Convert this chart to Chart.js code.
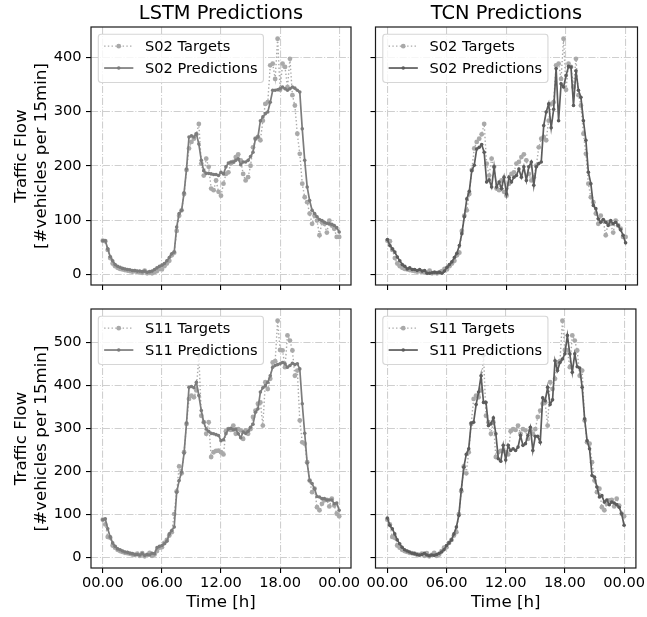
<!DOCTYPE html>
<html><head><meta charset="utf-8">
<script src="https://cdn.jsdelivr.net/npm/chart.js@4.4.1/dist/chart.umd.min.js"></script>
<style>
html,body{margin:0;padding:0;background:#fff;}
#wrap{position:relative;width:647px;height:617px;overflow:hidden;background:#fff;}
#wrap canvas{position:absolute;left:0;top:0;pointer-events:none;}
</style></head><body>
<div id="wrap">
<canvas id="tl" width="647" height="617"></canvas>
<canvas id="tr" width="647" height="617"></canvas>
<canvas id="bl" width="647" height="617"></canvas>
<canvas id="br" width="647" height="617"></canvas>
</div>
<script>
// ---- data (15-min steps over one day, 97 samples) ----
const timeTickPositions = [0, 24, 48, 72, 96];
const timeTickLabels = ['00.00', '06.00', '12.00', '18.00', '00.00'];
const flowTicksS02 = [0, 100, 200, 300, 400];
const flowTicksS11 = [0, 100, 200, 300, 400, 500];

const s02Targets = [62,61,45,30,20,15,12,10,9,8,7,6,5,6,4,4,3,7,2,3,2,4,6,10,9,15,20,25,35,40,
  80,108,118,148,192,232,244,250,258,277,204,182,213,198,158,155,173,152,145,167,
  185,188,204,207,216,221,210,185,173,179,200,234,250,253,247,283,314,317,385,388,
  360,434,340,388,382,345,397,330,311,259,222,167,142,133,112,93,108,99,72,96,
  93,77,99,90,84,69,69];
const s02LstmPred = [62,62,47,33,25,18,15,13,11,10,9,8.5,7,7,6,6,5,6,4,5,6,9,12,15,17,20,25,31,38,41,
  87,112,118,150,194,253,255,253,259,240,210,191,186,186,185,184,184,182,188,185,
  198,205,207,207,210,213,202,207,207,210,217,225,250,253,283,290,296,299,317,339,
  339,340,342,345,342,339,342,345,343,339,336,268,210,161,136,118,112,106,101,99,
  96,94,93,92,90,86,78];
const s02TcnPred = [64,53,47,41,32,25,18,15,10,12,9,9,7,9,6,7,2,2,3,4,3,4,2,6,13,18,23,31,39,53,
  75,106,139,153,191,201,231,234,239,225,170,174,161,198,161,170,158,179,148,179,
  170,179,182,194,179,198,173,198,207,164,198,204,207,274,299,314,270,304,379,283,
  351,345,366,383,382,311,375,339,326,283,247,188,167,127,121,102,96,101,96,90,
  99,93,96,90,82,72,58];

const s11Targets = [87,76,47,45,27,22,17,14,12,10,9,8,6,5,8,3,9,2,5,10,3,6,14,22,23,33,40,50,58,100,
  153,211,195,244,310,368,376,372,388,470,329,314,287,314,233,244,247,248,244,239,
  293,298,296,306,287,298,295,275,295,287,298,326,341,357,360,306,407,391,415,453,
  456,550,482,481,442,516,504,481,422,434,318,267,264,221,178,151,159,116,109,124,
  132,133,118,136,120,101,95];
const s11LstmPred = [87,89,66,47,33,25,19,17,14,12,11,9,8,6,6,5,8,4,6,5,9,8,22,25,27,31,37,54,62,70,
  151,178,198,242,312,395,397,394,407,376,341,314,298,293,288,287,285,283,271,273,
  287,298,300,296,298,287,278,291,288,293,302,309,337,345,384,394,399,407,422,442,
  446,448,450,453,450,442,446,451,448,450,438,357,288,219,178,171,159,141,140,136,
  136,133,133,133,124,126,109];
const s11TcnPred = [91,74,66,54,40,31,23,17,14,12,9,8,6,5,6,9,5,3,5,4,6,9,12,17,27,33,40,54,70,97,
  157,209,239,252,312,314,355,384,422,360,360,306,310,324,287,229,223,260,226,260,
  248,252,248,256,283,260,264,283,302,248,281,281,267,371,364,395,355,366,457,434,
  453,461,473,516,473,430,473,443,440,395,322,271,252,190,186,163,140,143,128,133,
  122,128,126,122,116,101,74];

// ---- styling ----
const FONT = 'DejaVu Sans';
const TICK_FS = 14.6, LABEL_FS = 16.67, TITLE_FS = 19.4, LEGEND_FS = 14.6;
const TARGET_COLOR = '#a9a9a9';
const LSTM_COLOR = '#7c7c7c';
const TCN_COLOR = '#5c5c5c';
const GRID_COLOR = '#cfcfcf';
const GRID_DASH = [7.1, 1.8, 1.1, 1.8];
const W = 647, H = 617;

function toPts(arr) { return arr.map((v, i) => ({x: i, y: v})); }
function limits(arrs) {
  const all = [].concat(...arrs);
  const mn = Math.min(...all), mx = Math.max(...all);
  const m = (mx - mn) * 0.05;
  return [mn - m, mx + m];
}
const limS02 = limits([s02Targets, s02LstmPred, s02TcnPred]);
const limS11 = limits([s11Targets, s11LstmPred, s11TcnPred]);
const xLim = [-0.05 * 96, 96 + 0.05 * 96];

const framePlugin = {
  id: 'mplFrame',
  afterDatasetsDraw(chart) {
    const {ctx, chartArea: ca} = chart;
    ctx.save();
    ctx.strokeStyle = '#1a1a1a';
    ctx.lineWidth = 1.2;
    ctx.setLineDash([]);
    ctx.strokeRect(ca.left, ca.top, ca.right - ca.left, ca.bottom - ca.top);
    ctx.restore();
  }
};

const legendPlugin = {
  id: 'mplLegend',
  afterDraw(chart) {
    const {ctx, chartArea: ca} = chart;
    const fs = LEGEND_FS;
    const items = chart.data.datasets;
    ctx.save();
    ctx.font = fs + 'px "' + FONT + '"';
    const tw = Math.max(...items.map(d => ctx.measureText(d.label).width));
    const bp = 0.4 * fs, hl = 2 * fs, htp = 0.8 * fs, ls = 0.5 * fs, rowH = fs;
    const x0 = ca.left + 0.5 * fs, y0 = ca.top + 0.5 * fs;
    const w = 2 * bp + hl + htp + tw;
    const h = 2 * bp + items.length * rowH + (items.length - 1) * ls;
    const r = 0.2 * fs;
    ctx.beginPath();
    ctx.moveTo(x0 + r, y0);
    ctx.arcTo(x0 + w, y0, x0 + w, y0 + h, r);
    ctx.arcTo(x0 + w, y0 + h, x0, y0 + h, r);
    ctx.arcTo(x0, y0 + h, x0, y0, r);
    ctx.arcTo(x0, y0, x0 + w, y0, r);
    ctx.closePath();
    ctx.fillStyle = 'rgba(255,255,255,0.8)';
    ctx.fill();
    ctx.strokeStyle = 'rgba(204,204,204,0.8)';
    ctx.lineWidth = 1.1;
    ctx.stroke();
    items.forEach((d, i) => {
      const rowTop = y0 + bp + i * (rowH + ls);
      const base = rowTop + 0.76 * fs;
      const cy = base - 0.35 * fs;
      const hx0 = x0 + bp, hx1 = x0 + bp + hl;
      ctx.strokeStyle = d.borderColor;
      ctx.lineWidth = d.borderWidth;
      ctx.setLineDash(d.borderDash || []);
      ctx.beginPath();
      ctx.moveTo(hx0, cy);
      ctx.lineTo(hx1, cy);
      ctx.stroke();
      ctx.setLineDash([]);
      ctx.fillStyle = d.pointBackgroundColor;
      ctx.beginPath();
      ctx.arc((hx0 + hx1) / 2, cy, d.pointRadius, 0, Math.PI * 2);
      ctx.fill();
      ctx.fillStyle = '#000';
      ctx.textAlign = 'left';
      ctx.textBaseline = 'alphabetic';
      ctx.fillText(d.label, hx1 + htp, base);
    });
    ctx.restore();
  }
};

function gridOpts() {
  return {
    color: GRID_COLOR, lineWidth: 1.1, borderDash: GRID_DASH,
    drawOnChartArea: true, drawTicks: true, tickLength: 5,
    tickColor: '#000', tickWidth: 1.1, tickBorderDash: []
  };
}

function makePanel(id, cfg) {
  const a = cfg.area;
  const xAxisH = cfg.showX ? (H - a.B) : 10;
  const titleLH = TITLE_FS * 1.2;
  const datasets = [
    {
      label: cfg.station + ' Targets', data: toPts(cfg.targets),
      borderColor: TARGET_COLOR, backgroundColor: TARGET_COLOR,
      borderWidth: 1.4, borderDash: [1.4, 2.3],
      pointRadius: 2.4, pointBorderWidth: 0, pointBackgroundColor: TARGET_COLOR,
      pointHoverRadius: 0, tension: 0, order: 1, fill: false
    },
    {
      label: cfg.station + ' Predictions', data: toPts(cfg.preds),
      borderColor: cfg.predColor, backgroundColor: cfg.predColor,
      borderWidth: 1.7,
      pointRadius: 1.8, pointBorderWidth: 0, pointBackgroundColor: cfg.predColor,
      pointHoverRadius: 0, tension: 0, order: 0, fill: false
    }
  ];
  return new Chart(document.getElementById(id), {
    type: 'line',
    data: {datasets},
    options: {
      responsive: false, animation: false, devicePixelRatio: 1,
      events: [],
      layout: {
        autoPadding: false,
        padding: {left: 0, top: cfg.title ? 0 : a.T, right: W - a.R, bottom: H - a.B - xAxisH}
      },
      plugins: {
        legend: {display: false},
        tooltip: {enabled: false},
        title: cfg.title ? {
          display: true, text: cfg.title, fullSize: false, color: '#000',
          font: {family: FONT, size: TITLE_FS, weight: 'normal', lineHeight: 1.2},
          padding: {top: 2.66, bottom: a.T - 2.66 - titleLH}
        } : {display: false}
      },
      scales: {
        x: {
          type: 'linear', position: 'bottom', min: xLim[0], max: xLim[1],
          afterFit(s) { s.height = xAxisH; },
          afterBuildTicks(s) { s.ticks = timeTickPositions.map(v => ({value: v})); },
          ticks: {
            display: cfg.showX, autoSkip: false, maxRotation: 0, minRotation: 0,
            padding: 1.6, color: '#000', font: {family: FONT, size: TICK_FS},
            callback: (v, i) => timeTickLabels[i]
          },
          grid: gridOpts(),
          border: {display: false, dash: GRID_DASH},
          title: {
            display: cfg.showX, text: 'Time [h]', color: '#000',
            font: {family: FONT, size: LABEL_FS, lineHeight: 1.2},
            padding: {top: 0, bottom: 4}
          }
        },
        y: {
          type: 'linear', position: 'left', min: cfg.yLim[0], max: cfg.yLim[1],
          afterFit(s) { s.width = a.L; },
          afterBuildTicks(s) { s.ticks = cfg.yTicks.map(v => ({value: v})); },
          ticks: {
            display: cfg.showY, padding: 4.5, color: '#000',
            font: {family: FONT, size: TICK_FS},
            callback: v => String(v)
          },
          grid: gridOpts(),
          border: {display: false, dash: GRID_DASH},
          title: {
            display: cfg.showY, text: ['Traffic Flow', '[#vehicles per 15min]'], color: '#000',
            font: {family: FONT, size: LABEL_FS, lineHeight: 1.2},
            padding: {top: 11.5, bottom: 0}
          }
        }
      }
    },
    plugins: [framePlugin, legendPlugin]
  });
}

const leftArea = {L: 91, R: 351};
const rightArea = {L: 375.5, R: 637.5};
const topRow = {T: 27, B: 285};
const botRow = {T: 309, B: 568};

makePanel('tl', {area: Object.assign({}, leftArea, topRow), title: 'LSTM Predictions', showX: false, showY: true,
  station: 'S02', targets: s02Targets, preds: s02LstmPred, predColor: LSTM_COLOR, yLim: limS02, yTicks: flowTicksS02});
makePanel('tr', {area: Object.assign({}, rightArea, topRow), title: 'TCN Predictions', showX: false, showY: false,
  station: 'S02', targets: s02Targets, preds: s02TcnPred, predColor: TCN_COLOR, yLim: limS02, yTicks: flowTicksS02});
makePanel('bl', {area: Object.assign({}, leftArea, botRow), title: null, showX: true, showY: true,
  station: 'S11', targets: s11Targets, preds: s11LstmPred, predColor: LSTM_COLOR, yLim: limS11, yTicks: flowTicksS11});
makePanel('br', {area: Object.assign({}, rightArea, botRow), title: null, showX: true, showY: false,
  station: 'S11', targets: s11Targets, preds: s11TcnPred, predColor: TCN_COLOR, yLim: limS11, yTicks: flowTicksS11});
</script>
</body></html>
